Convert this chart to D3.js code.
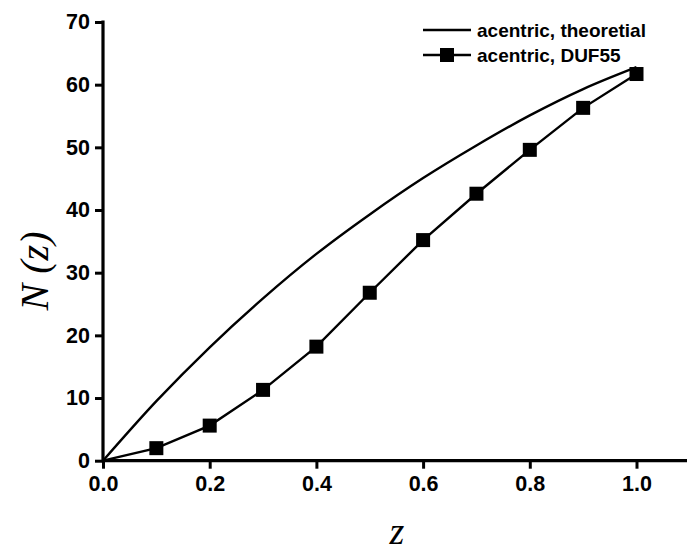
<!DOCTYPE html>
<html><head><meta charset="utf-8">
<script src="https://cdn.jsdelivr.net/npm/d3@7"></script>
<style>body{margin:0;background:#fff}svg{display:block}</style>
</head><body>
<script>
const zTheory = [0, 0.1, 0.2, 0.3, 0.4, 0.5, 0.6, 0.7, 0.8, 0.9, 1.0];
const nTheory = [0, 9.5, 18.1, 25.9, 33.0, 39.3, 45.1, 50.3, 55.1, 59.3, 62.8];
const zDuf = [0, 0.1, 0.2, 0.3, 0.4, 0.5, 0.6, 0.7, 0.8, 0.9, 1.0];
const nDuf = [0, 2.0, 5.6, 11.3, 18.2, 26.8, 35.2, 42.6, 49.6, 56.3, 61.7];
const xMajor = [0, 0.2, 0.4, 0.6, 0.8, 1.0];
const xMinor = [0.1, 0.3, 0.5, 0.7, 0.9];
const yMajor = [0, 10, 20, 30, 40, 50, 60, 70];
const yMinor = [5, 15, 25, 35, 45, 55, 65];
const legendLabels = ["acentric, theoretial", "acentric, DUF55"];

const W = 687, H = 557;
const svg = d3.select("body").append("svg").attr("width", W).attr("height", H);
const x = d3.scaleLinear().domain([0, 1.1]).range([103, 103 + 1.1 * 533.5]);
const y = d3.scaleLinear().domain([0, 70]).range([460.7, 22]);
const fmtX = d3.format(".1f");

const gx = svg.append("g").attr("transform", `translate(0,${y(0)})`);
gx.call(d3.axisBottom(x).tickValues(xMinor).tickSize(5).tickFormat(""))
  .call(g => g.select(".domain").remove());
gx.call(d3.axisBottom(x).tickValues(xMajor).tickSize(8).tickPadding(7).tickFormat(fmtX));
gx.select(".domain").attr("stroke-width", 3.2).attr("d", `M${x(0)-1},0H${W}`);
gx.selectAll("line").attr("stroke-width", 3);
gx.selectAll("text").attr("font-family", "Liberation Sans, Arial, sans-serif")
  .attr("font-weight", "bold").attr("font-size", 21.5).attr("fill", "#000");

const gy = svg.append("g").attr("transform", `translate(${x(0)},0)`);
gy.call(d3.axisLeft(y).tickValues(yMinor).tickSize(5).tickFormat(""))
  .call(g => g.select(".domain").remove());
gy.call(d3.axisLeft(y).tickValues(yMajor).tickSize(8).tickPadding(5).tickFormat(d3.format("d")));
gy.select(".domain").attr("stroke-width", 3.2).attr("d", `M0,${y(70)-1.5}V${y(0)+1.5}`);
gy.selectAll("line").attr("stroke-width", 3);
gy.selectAll("text").attr("font-family", "Liberation Sans, Arial, sans-serif")
  .attr("font-weight", "bold").attr("font-size", 21.5).attr("fill", "#000");

const line = d3.line().x(d => x(d[0])).y(d => y(d[1])).curve(d3.curveMonotoneX);
svg.append("path").datum(zTheory.map((z, i) => [z, nTheory[i]]))
  .attr("fill", "none").attr("stroke", "#000").attr("stroke-width", 2.4).attr("d", line);
const lineD = d3.line().x(d => x(d[0])).y(d => y(d[1]));
const dufData = zDuf.map((z, i) => [z, nDuf[i]]);
svg.append("path").datum(dufData)
  .attr("fill", "none").attr("stroke", "#000").attr("stroke-width", 2.4).attr("d", lineD);
const ms = 14;
svg.selectAll("rect.m").data(dufData.slice(1)).join("rect").attr("class", "m")
  .attr("x", d => x(d[0]) - ms / 2).attr("y", d => y(d[1]) - ms / 2)
  .attr("width", ms).attr("height", ms).attr("fill", "#000");

const lg = svg.append("g");
const rowsY = [30, 55];
lg.append("line").attr("x1", 423).attr("x2", 471).attr("y1", rowsY[0]).attr("y2", rowsY[0])
  .attr("stroke", "#000").attr("stroke-width", 2.4);
lg.append("line").attr("x1", 423).attr("x2", 471).attr("y1", rowsY[1]).attr("y2", rowsY[1])
  .attr("stroke", "#000").attr("stroke-width", 2.4);
lg.append("rect").attr("x", 447 - ms / 2).attr("y", rowsY[1] - ms / 2).attr("width", ms).attr("height", ms).attr("fill", "#000");
lg.selectAll("text").data(legendLabels).join("text")
  .attr("x", 477).attr("y", (d, i) => rowsY[i]).attr("dy", "0.35em")
  .attr("font-family", "Liberation Sans, Arial, sans-serif").attr("font-weight", "bold")
  .attr("font-size", 19).attr("fill", "#000").text(d => d);

svg.append("text").attr("x", 397).attr("y", 544).attr("text-anchor", "middle")
  .attr("font-family", "Liberation Serif, Times New Roman, serif").attr("font-style", "italic")
  .attr("font-size", 38).attr("fill", "#000").text("z");
svg.append("text").attr("transform", "translate(48,271) rotate(-90)").attr("text-anchor", "middle")
  .attr("font-family", "Liberation Serif, Times New Roman, serif").attr("font-style", "italic")
  .attr("font-size", 40).attr("fill", "#000").text("N (z)");
</script>
</body></html>
